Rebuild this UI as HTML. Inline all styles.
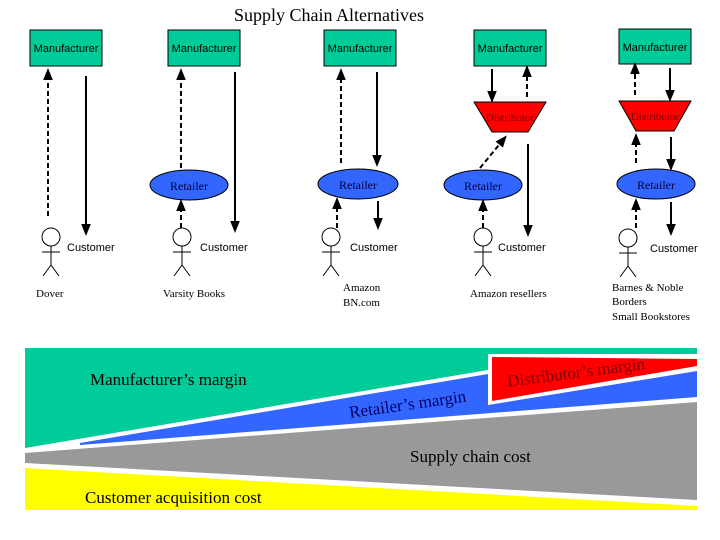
<!DOCTYPE html>
<html><head><meta charset="utf-8"><style>
html,body{margin:0;padding:0;background:#fff;}
svg{display:block}
.a{font-family:"Liberation Sans",sans-serif;font-size:11px;}
.s{font-family:"Liberation Serif",serif;}
</style></head><body>
<svg width="720" height="540" xmlns="http://www.w3.org/2000/svg">
<defs>
<marker id="ah" viewBox="0 0 10 10" refX="5" refY="5" markerWidth="6" markerHeight="6" orient="auto-start-reverse"><path d="M0,1 L10,5 L0,9 z" fill="#000"/></marker>
<g id="fig" stroke="#000" stroke-width="1" fill="none"><circle cx="0" cy="0" r="9" fill="#fff"/><line x1="0" y1="9" x2="0" y2="28"/><line x1="-9" y1="15" x2="9" y2="15"/><line x1="0" y1="28" x2="-8" y2="39"/><line x1="0" y1="28" x2="8" y2="39"/></g>
</defs>
<text x="329" y="21" text-anchor="middle" class="s" font-size="18">Supply Chain Alternatives</text>
<g fill="#00CC99" stroke="#000">
<rect x="30" y="30" width="72" height="36"/><rect x="168" y="30" width="72" height="36"/><rect x="324" y="30" width="72" height="36"/><rect x="474" y="30" width="72" height="36"/><rect x="619" y="29" width="72" height="35"/>
</g>
<g class="a" text-anchor="middle"><text x="66" y="52">Manufacturer</text><text x="204" y="52">Manufacturer</text><text x="360" y="52">Manufacturer</text><text x="510" y="52">Manufacturer</text><text x="655" y="51">Manufacturer</text></g>
<g fill="#FF0000" stroke="#000"><polygon points="474,102 546,102 528,132 492,132"/><polygon points="619,101 691,101 674,131 636,131"/></g>
<g class="s" font-size="11" fill="#800000" text-anchor="middle"><text x="510" y="121">Distributor</text><text x="655" y="120">Distributor</text></g>
<g fill="#3366FF" stroke="#000"><ellipse cx="189" cy="185" rx="39" ry="15"/><ellipse cx="358" cy="184" rx="40" ry="15"/><ellipse cx="483" cy="185" rx="39" ry="15"/><ellipse cx="656" cy="184" rx="39" ry="15"/></g>
<g class="s" font-size="12" fill="#000040" text-anchor="middle"><text x="189" y="190">Retailer</text><text x="358" y="189">Retailer</text><text x="483" y="190">Retailer</text><text x="656" y="189">Retailer</text></g>
<g stroke="#000" stroke-width="2" marker-end="url(#ah)">
<line x1="48" y1="216" x2="48" y2="74" stroke-dasharray="5,3"/><line x1="86" y1="76" x2="86" y2="230"/>
<line x1="181" y1="168" x2="181" y2="74" stroke-dasharray="5,3"/><line x1="181" y1="228" x2="181" y2="205" stroke-dasharray="5,3"/><line x1="235" y1="72" x2="235" y2="227"/>
<line x1="341" y1="163" x2="341" y2="74" stroke-dasharray="5,3"/><line x1="377" y1="72" x2="377" y2="161"/><line x1="378" y1="201" x2="378" y2="224"/><line x1="337" y1="228" x2="337" y2="203" stroke-dasharray="5,3"/>
<line x1="492" y1="69" x2="492" y2="97"/><line x1="527" y1="97" x2="527" y2="71" stroke-dasharray="5,3"/><line x1="480" y1="168" x2="503" y2="140" stroke-dasharray="5,3"/><line x1="483" y1="228" x2="483" y2="205" stroke-dasharray="5,3"/><line x1="528" y1="144" x2="528" y2="231"/>
<line x1="635" y1="95" x2="635" y2="68" stroke-dasharray="5,3"/><line x1="670" y1="68" x2="670" y2="96"/><line x1="636" y1="163" x2="636" y2="139" stroke-dasharray="5,3"/><line x1="671" y1="137" x2="671" y2="165"/><line x1="636" y1="228" x2="636" y2="204" stroke-dasharray="5,3"/><line x1="671" y1="202" x2="671" y2="230"/>
</g>
<use href="#fig" x="51" y="237"/><use href="#fig" x="182" y="237"/><use href="#fig" x="331" y="237"/><use href="#fig" x="483" y="237"/><use href="#fig" x="628" y="238"/>
<g class="a"><text x="67" y="251">Customer</text><text x="200" y="251">Customer</text><text x="350" y="251">Customer</text><text x="498" y="251">Customer</text><text x="650" y="252">Customer</text></g>
<g class="s" font-size="11"><text x="36" y="297">Dover</text><text x="163" y="297">Varsity Books</text><text x="343" y="291">Amazon</text><text x="343" y="306">BN.com</text><text x="470" y="297">Amazon resellers</text><text x="612" y="291">Barnes &amp; Noble</text><text x="612" y="305">Borders</text><text x="612" y="320">Small Bookstores</text></g>
<polygon points="25,348 697,348 697,354 488,354 488,370 25,448" fill="#00CC99"/>
<polygon points="80,443 488,374 488,405 697,371 697,397 80,445" fill="#3366FF"/>
<polygon points="492,357 697,359 697,366 492,401" fill="#FF0000"/>
<polygon points="25,453 697,402 697,500 25,463" fill="#999999"/>
<polygon points="25,468 697,506 697,510 25,510" fill="#FFFF00"/>
<g class="s" font-size="17">
<text x="90" y="385">Manufacturer’s margin</text>
<text x="350" y="418" fill="#000060" transform="rotate(-8 350 418)">Retailer’s margin</text>
<text x="508" y="387" fill="#800000" transform="rotate(-7.5 508 387)">Distributor’s margin</text>
<text x="410" y="462">Supply chain cost</text>
<text x="85" y="503">Customer acquisition cost</text>
</g>
</svg>
</body></html>
